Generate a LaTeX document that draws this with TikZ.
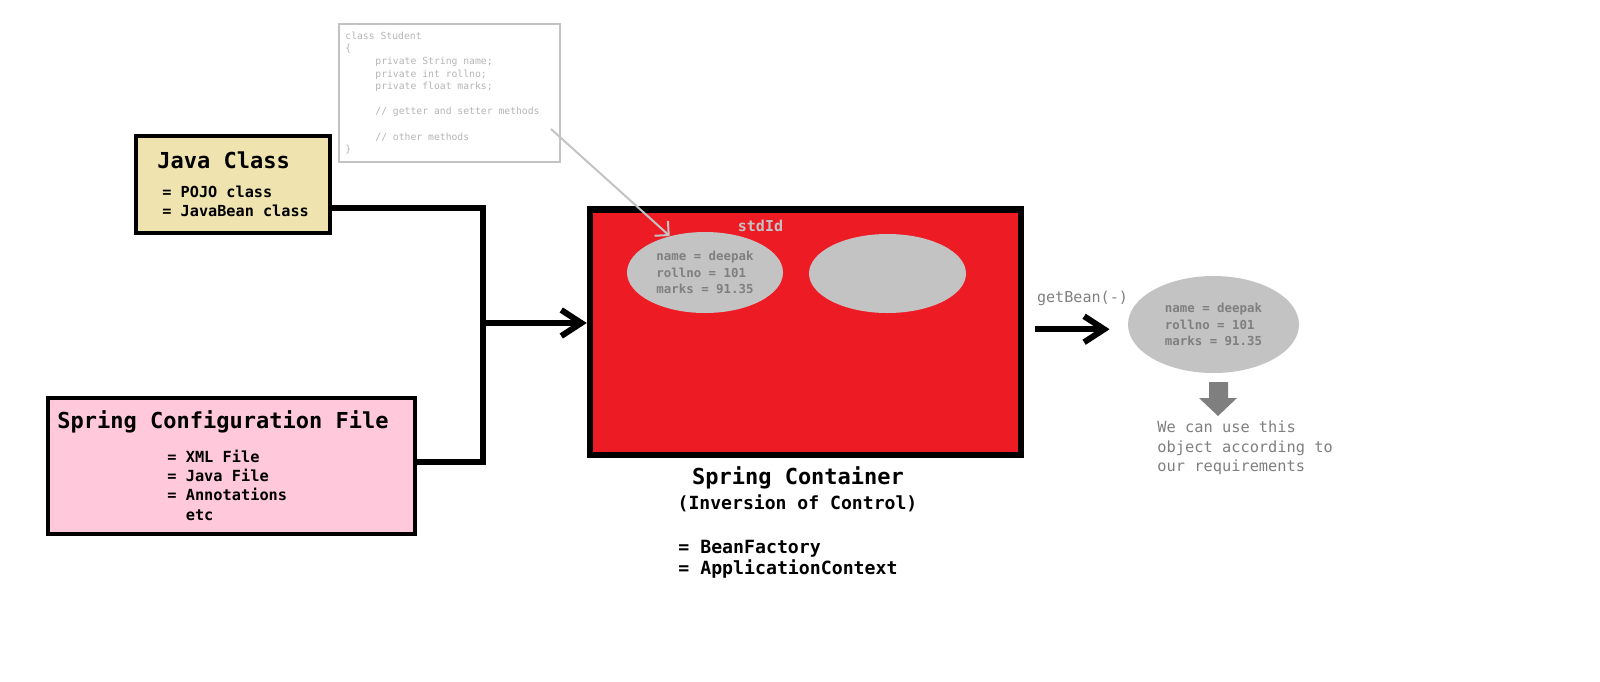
\documentclass[tikz,border=0pt]{standalone}
\usepackage{fontspec}
\setmonofont{DejaVu Sans Mono}
\usetikzlibrary{arrows.meta,shapes.geometric}

\definecolor{javafill}{HTML}{EFE4B0}
\definecolor{conffill}{HTML}{FFC9DB}
\definecolor{springred}{HTML}{ED1C24}
\definecolor{beangray}{HTML}{C3C3C3}
\definecolor{beantext}{HTML}{7F7F7F}
\definecolor{codegray}{HTML}{B4B4B4}

\tikzset{
    box/.style={draw, line width=2pt, inner sep=0pt},
    bean/.style={ellipse, fill=beangray, inner sep=0pt, align=left, text=beantext,
        font=\ttfamily\bfseries\fontsize{6.2}{8.4}\selectfont},
    link/.style={line width=3pt},
    title/.style={font=\ttfamily\bfseries\fontsize{11}{13}\selectfont, inner sep=0pt},
    items/.style={font=\ttfamily\bfseries\fontsize{7.6}{9.5}\selectfont, inner sep=0pt,
        align=left, anchor=west},
}

\begin{document}
\begin{tikzpicture}[x=0.5pt,y=-0.5pt]
\useasboundingbox (0,0) rectangle (1600,681);

% Code snippet
\node[box, draw=beangray, line width=1pt, minimum width=110.5pt, minimum height=69.2pt] (code) at (449.5,92.8) {};
\node[anchor=west, inner sep=0pt, align=left, text=codegray,
    font=\ttfamily\fontsize{4.87}{6.3}\selectfont] (codetext) at (345,93)
    {class Student\\ \{\\
    \hspace*{15pt}private String name;\\
    \hspace*{15pt}private int rollno;\\
    \hspace*{15pt}private float marks;\\ \mbox{}\\
    \hspace*{15pt}// getter and setter methods\\ \mbox{}\\
    \hspace*{15pt}// other methods\\ \}};

% Java class
\node[box, fill=javafill, minimum width=97pt, minimum height=48.5pt] (java) at (233,184.5) {};
\node[title, anchor=west] (javatitle) at (157,160) {Java Class};
\node[items] (javaitems) at (162,201.5) {= POJO class\\= JavaBean class};

% Spring configuration file
\node[box, fill=conffill, minimum width=183.5pt, minimum height=68pt] (conf) at (231.5,466) {};
\node[title, anchor=west] (conftitle) at (57,422) {Spring Configuration File};
\node[items, font=\ttfamily\bfseries\fontsize{7.65}{9.65}\selectfont] (confitems) at (167,485)
    {= XML File\\= Java File\\= Annotations\\\hphantom{= }etc};

% Spring container
\node[box, line width=3.25pt, fill=springred, minimum width=215.5pt, minimum height=122.75pt] (spring) at (805.5,332.25) {};
\node[font=\ttfamily\bfseries\fontsize{7.5}{9}\selectfont, text=beangray, inner sep=0pt] (stdid) at (760.5,226) {stdId};
\node[bean, minimum width=78pt, minimum height=40.5pt] (bean1) at (705,272.5) {name = deepak\\rollno = 101\\marks = 91.35};
\node[bean, minimum width=78.5pt, minimum height=39.5pt] (bean2) at (887.5,273.5) {};

\node[title] (springtitle) at (798,478) {Spring Container};
\node[font=\ttfamily\bfseries\fontsize{9.05}{11}\selectfont, inner sep=0pt] (ioc) at (797.5,503) {(Inversion of Control)};
\node[items, font=\ttfamily\bfseries\fontsize{9.1}{10.5}\selectfont] (impl) at (678,559.5) {= BeanFactory\\= ApplicationContext};

% Connectors
\coordinate (jn) at (483,208);
\coordinate (cn) at (483,462);
\coordinate (mid) at (483,323);
\draw[link] (java.east |- jn) -- (jn) -- (cn) -- (conf.east |- cn);
\draw[link, -{Straight Barb[length=10pt,width=13pt]}] (mid) -- (spring.west |- mid);

% getBean
\node[bean, minimum width=85.5pt, minimum height=48.5pt] (bean3) at (1213.5,324.5) {name = deepak\\rollno = 101\\marks = 91.35};
\draw[link, -{Straight Barb[length=10pt,width=13pt]}, shorten <=5.5pt, shorten >=9pt]
    ([yshift=1.5pt]spring.east) -- ([yshift=1.5pt]spring.east -| bean3.west);
\node[font=\ttfamily\fontsize{7.55}{9}\selectfont, text=beantext, inner sep=0pt] (getbean) at (1082.5,298) {getBean(-)};

% Usage
\fill[beantext] (1209,382) -- (1228,382) -- (1228,398) -- (1237,398) -- (1218,416) -- (1199,398) -- (1209,398) -- cycle;
\node[items, text=beantext, font=\ttfamily\fontsize{7.67}{9.65}\selectfont] (usage) at (1157,448)
    {We can use this\\object according to\\our requirements};

% Code to object
\coordinate (cs) at (551,129);
\draw[beangray, line width=1pt, -{Straight Barb[length=5pt,width=10pt]}] (cs) -- (bean1.134);

\end{tikzpicture}
\end{document}
